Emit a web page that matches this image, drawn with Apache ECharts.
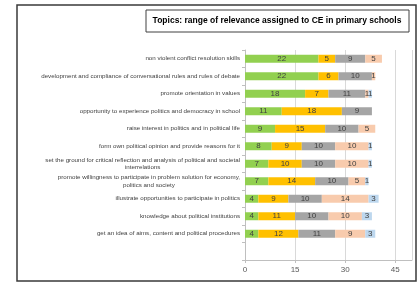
<!DOCTYPE html>
<html>
<head>
<meta charset="utf-8">
<script src="https://cdn.jsdelivr.net/npm/echarts@6/dist/echarts.min.js"></script>
<style>
  html, body { margin: 0; padding: 0; background: #fff; }
  #main { width: 420px; height: 282px; }
</style>
</head>
<body>
<div id="main"></div>
<script>
// topics, top to bottom (last one is the empty row Excel leaves at the bottom)
var topics = [
  'non violent conflict resolution skills',
  'development and compliance of conversational rules and rules of debate',
  'promote orientation in values',
  'opportunity to experience politics and democracy in school',
  'raise interest in politics and in political life',
  'form own political opinion and provide reasons for it',
  'set the ground for critical reflection and analysis of political and societal\ninterrelations',
  'promote willingness to participate in problem solution for economy,\npolitics and society',
  'illustrate opportunities to participate in politics',
  'knowledge about political institutions',
  'get an idea of aims, content and political procedures',
  ''
];
var level1 = [22, 22, 18, 11, 9, 8, 7, 7, 4, 4, 4, null];
var level2 = [5, 6, 7, 18, 15, 9, 10, 14, 9, 11, 12, null];
var level3 = [9, 10, 11, 9, 10, 10, 10, 10, 10, 10, 11, null];
var level4 = [5, 1, 1, 0, 5, 10, 10, 5, 14, 10, 9, null];
var level5 = [0, 0, 1, 0, 0, 1, 1, 1, 3, 3, 3, null];
var xTicks = [0, 15, 30, 45];

var colors = ['#92d050', '#ffc000', '#a5a5a5', '#f8cbad', '#bdd7ee'];

var chart = echarts.init(document.getElementById('main'));

function mkSeries(name, data, i) {
  return {
    name: name,
    type: 'bar',
    stack: 'all',
    barWidth: 8,
    data: data,
    itemStyle: { color: colors[i] },
    label: {
      show: true,
      position: 'inside',
      color: '#404040',
      fontSize: 8,
      fontFamily: 'Liberation Sans',
      formatter: function (p) { return p.value ? String(p.value) : ''; }
    }
  };
}

chart.setOption({
  animation: false,
  backgroundColor: '#fff',
  graphic: [
    {
      type: 'rect',
      shape: { x: 17, y: 5, width: 399, height: 276 },
      style: { fill: 'none', stroke: '#3a3a3a', lineWidth: 1.5 },
      z: -1
    },
    {
      type: 'rect',
      shape: { x: 146, y: 10, width: 263, height: 22 },
      style: { fill: '#fff', stroke: '#404040', lineWidth: 1 }
    },
    {
      type: 'text',
      x: 277, y: 21,
      style: {
        text: 'Topics: range of relevance assigned to CE in primary schools',
        fill: '#000',
        font: 'bold 8.5px "Liberation Sans"',
        align: 'center',
        verticalAlign: 'middle'
      }
    }
  ],
  grid: { left: 245, right: 8, top: 50, bottom: 22 },
  xAxis: {
    type: 'value',
    min: xTicks[0],
    max: 50,
    interval: 15,
    axisLine: { show: true, lineStyle: { color: '#bfbfbf' } },
    axisTick: { show: true, length: 3, lineStyle: { color: '#bfbfbf' } },
    axisLabel: {
      color: '#595959', fontSize: 8, fontFamily: 'Liberation Sans',
      showMaxLabel: false, margin: 6
    },
    splitLine: { show: true, lineStyle: { color: '#d9d9d9' } }
  },
  yAxis: {
    type: 'category',
    inverse: true,
    data: topics,
    axisLine: { show: true, lineStyle: { color: '#bfbfbf' } },
    axisTick: { show: true, length: 3, lineStyle: { color: '#bfbfbf' } },
    axisLabel: {
      color: '#404040',
      fontSize: 6.2,
      fontFamily: 'Liberation Sans',
      margin: 5,
      lineHeight: 7.5,
      formatter: function (v) {
        return v.split('\n').map(function (s) { return '{c|' + s + '}'; }).join('\n');
      },
      rich: {
        c: { align: 'center', fontSize: 6.2, color: '#404040', fontFamily: 'Liberation Sans', lineHeight: 7.5 }
      }
    }
  },
  series: [
    mkSeries('1', level1, 0),
    mkSeries('2', level2, 1),
    mkSeries('3', level3, 2),
    mkSeries('4', level4, 3),
    mkSeries('5', level5, 4)
  ]
});
</script>
</body>
</html>
